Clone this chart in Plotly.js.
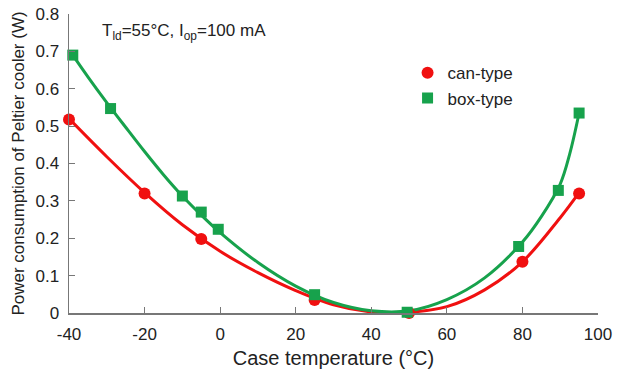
<!DOCTYPE html>
<html>
<head>
<meta charset="utf-8">
<script src="https://cdn.plot.ly/plotly-3.0.1.min.js"></script>
<style>html,body{margin:0;padding:0;background:#fff;}#chart{width:617px;height:369px;}</style>
</head>
<body>
<div id="chart"></div>
<script>
// Measured points
const canX = [-40, -20, -5, 25, 50, 80, 95];
const canY = [0.518, 0.32, 0.198, 0.035, 0.0, 0.137, 0.32];
const boxX = [-39, -29, -10, -5, -0.5, 25, 49.5, 79, 89.5, 95];
const boxY = [0.69, 0.547, 0.313, 0.27, 0.224, 0.049, 0.002, 0.178, 0.328, 0.535];

// Fitted curves
const canFitX = [-40, -30, -20, -10, 0, 10, 20, 30, 40, 50, 60, 70, 80, 90, 95];
const canFitY = [0.52, 0.418, 0.322, 0.236, 0.165, 0.108, 0.06, 0.022, 0.003, 0.002, 0.017, 0.062, 0.137, 0.255, 0.322];
const boxFitX = [-39, -35, -30, -25, -20, -15, -10, -5, 0, 10, 20, 30, 40, 50, 60, 70, 80, 85, 90, 92.5, 95];
const boxFitY = [0.69, 0.632, 0.563, 0.497, 0.432, 0.37, 0.313, 0.262, 0.215, 0.135, 0.072, 0.028, 0.006, 0.006, 0.036, 0.094, 0.19, 0.258, 0.345, 0.425, 0.535];

const xTicks = [-40, -20, 0, 20, 40, 60, 80, 100];
const yTicks = [0, 0.1, 0.2, 0.3, 0.4, 0.5, 0.6, 0.7, 0.8];

const RED = '#f01010';
const GREEN = '#17a24c';
const FONT = 'Liberation Sans, Arial, sans-serif';

const traces = [
  {x: canFitX, y: canFitY, mode: 'lines', line: {color: RED, width: 3, shape: 'spline'}, showlegend: false, hoverinfo: 'skip', cliponaxis: false},
  {x: boxFitX, y: boxFitY, mode: 'lines', line: {color: GREEN, width: 3, shape: 'spline'}, showlegend: false, hoverinfo: 'skip', cliponaxis: false},
  {x: canX, y: canY, mode: 'markers', name: 'can-type', marker: {color: RED, size: 12, symbol: 'circle'}, cliponaxis: false},
  {x: boxX, y: boxY, mode: 'markers', name: 'box-type', marker: {color: GREEN, size: 11, symbol: 'square'}, cliponaxis: false}
];

const axisCommon = {
  showgrid: false, zeroline: false, showline: true, linecolor: '#777', linewidth: 1.5,
  ticks: 'inside', ticklen: 6, tickcolor: '#777', tickwidth: 1.2,
  tickfont: {family: FONT, size: 17, color: '#222'}
};

const layout = {
  width: 617, height: 369,
  margin: {l: 69, r: 19, t: 14, b: 56},
  paper_bgcolor: '#fff', plot_bgcolor: '#fff',
  font: {family: FONT, color: '#222'},
  xaxis: Object.assign({}, axisCommon, {
    range: [-40, 100], tickvals: xTicks, ticktext: xTicks.map(String),
    ticklabelstandoff: 5,
    title: {text: 'Case temperature (°C)', font: {family: FONT, size: 20, color: '#222'}, standoff: 8}
  }),
  yaxis: Object.assign({}, axisCommon, {
    range: [0, 0.8], tickvals: yTicks, ticktext: yTicks.map(String),
    ticklabelstandoff: 5,
    title: {text: 'Power consumption of Peltier cooler (W)', font: {family: FONT, size: 17, color: '#222'}, standoff: 6}
  }),
  legend: {
    x: 0.64, y: 0.862, xanchor: 'left', yanchor: 'top',
    font: {family: FONT, size: 17, color: '#222'}, bgcolor: 'rgba(0,0,0,0)', tracegroupgap: 0
  },
  annotations: [{
    xref: 'paper', yref: 'paper', x: 0.058, y: 0.94, xanchor: 'left', yanchor: 'middle',
    text: 'T<sub>ld</sub>=55°C, I<sub>op</sub>=100 mA', showarrow: false,
    font: {family: FONT, size: 17, color: '#222'}
  }]
};

Plotly.newPlot('chart', traces, layout, {displayModeBar: false, staticPlot: true});
</script>
</body>
</html>
